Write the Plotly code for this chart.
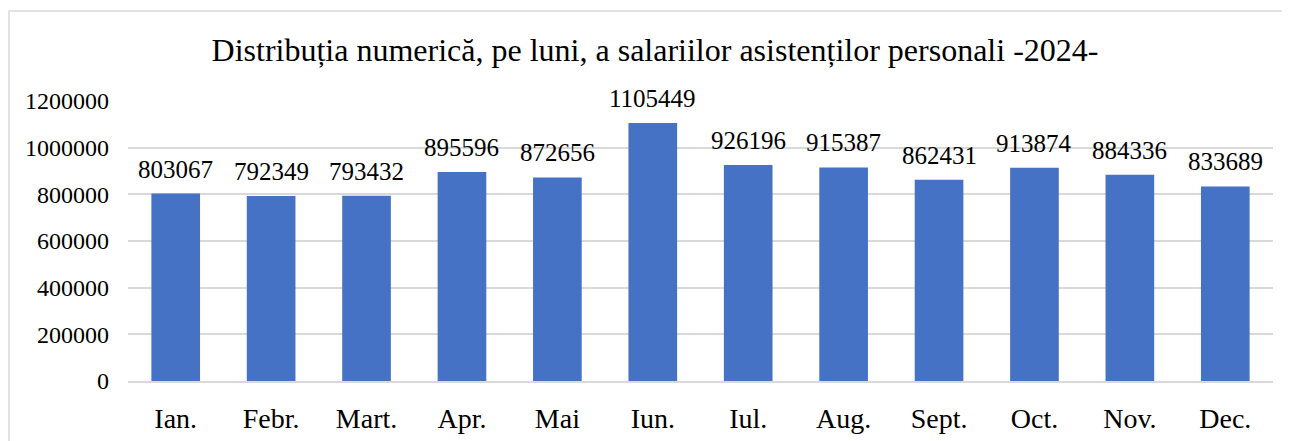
import plotly.graph_objects as go

months = ["Ian.", "Febr.", "Mart.", "Apr.", "Mai", "Iun.", "Iul.", "Aug.", "Sept.", "Oct.", "Nov.", "Dec."]
values = [803067, 792349, 793432, 895596, 872656, 1105449, 926196, 915387, 862431, 913874, 884336, 833689]
y_ticks = [0, 200000, 400000, 600000, 800000, 1000000, 1200000]
title_text = "Distribuția numerică, pe luni, a salariilor asistenților personali -2024-"

FONT = "Liberation Serif"
OFF = 8  # page body margin

W, H = 1290 - OFF, 441 - OFF
L, T = 128 - OFF, 101 - OFF
pw, ph = 1145, 280
R, B = W - L - pw, H - T - ph

fig = go.Figure()
fig.add_trace(go.Bar(
    x=months, y=values,
    marker=dict(color="#4672C5", line=dict(width=0)),
    hoverinfo="x+y",
))

for m, v in zip(months, values):
    fig.add_annotation(x=m, y=v, text=str(v), showarrow=False, yanchor="bottom",
                       yshift=9, font=dict(family=FONT, size=25, color="#000000"))

fig.add_shape(type="rect", xref="paper", yref="paper",
              x0=(1 - L) / pw, x1=(1284 - OFF - L) / pw,
              y0=-(B + 20) / ph, y1=(T + ph - (11 - OFF)) / ph,
              line=dict(color="#d9d9d9", width=1.5), fillcolor="rgba(0,0,0,0)", layer="below")

fig.update_layout(
    width=W, height=H,
    margin=dict(l=L, r=R, t=T, b=B, autoexpand=False),
    paper_bgcolor="white", plot_bgcolor="white",
    bargap=0.49,
    showlegend=False,
    title=dict(text=title_text, x=(655 - OFF) / W, xanchor="center", xref="container",
               y=1 - (50 - OFF) / H, yanchor="middle", yref="container",
               font=dict(family=FONT, size=32, color="#000000")),
    font=dict(family=FONT, color="#000000"),
)
fig.update_xaxes(showgrid=False, showline=True, linecolor="#d9d9d9", linewidth=2,
                 ticks="", tickfont=dict(family=FONT, size=28, color="#000000"),
                 ticklabelstandoff=11)
fig.update_yaxes(range=[0, 1200000], tickvals=y_ticks, ticktext=[str(t) for t in y_ticks],
                 showgrid=True, gridcolor="#d9d9d9", gridwidth=1.5, zeroline=False,
                 showline=False, ticks="", tickfont=dict(family=FONT, size=24, color="#000000"),
                 ticklabelstandoff=18)

fig.write_html("out.html")
